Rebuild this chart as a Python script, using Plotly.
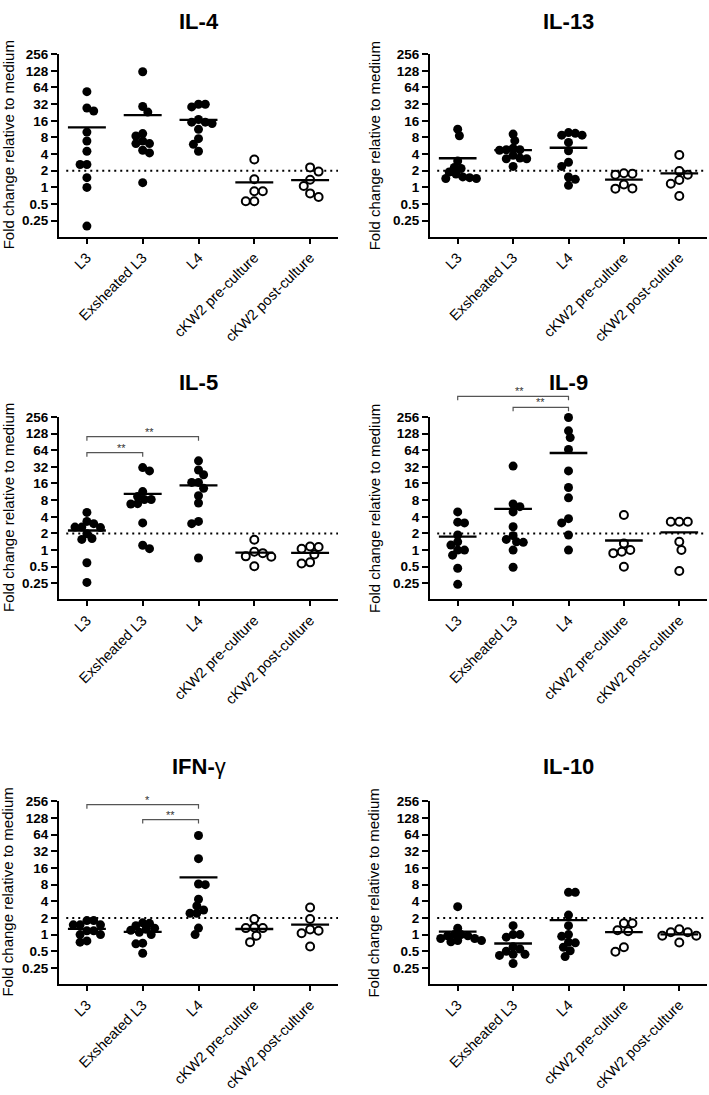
import math
import plotly.graph_objects as go

# ---------------- data ----------------
categories = ["L3", "Exsheated L3", "L4", "cKW2 pre-culture", "cKW2 post-culture"]
open_groups = [False, False, False, True, True]
tick_values = [0.25, 0.5, 1, 2, 4, 8, 16, 32, 64, 128, 256]
tick_labels = ["0.25", "0.5", "1", "2", "4", "8", "16", "32", "64", "128", "256"]
reference_level = 2
y_title = "Fold change relative to medium"

panel_titles = ["<b>IL-4</b>", "<b>IL-13</b>", "<b>IL-5</b>", "<b>IL-9</b>",
                "<b>IFN-</b>γ", "<b>IL-10</b>"]

il4 = [
    [53.8, 27.3, 24, 10, 6.9, 4.5, 2.6, 2.6, 1.5, 1.0, 0.2],
    [123, 29, 23, 9.4, 8.5, 6.9, 6.2, 6.2, 4.7, 4.2, 1.22],
    [31.8, 28.5, 31.8, 15.1, 14.3, 15.1, 16.9, 11.2, 7.6, 6.0, 4.5],
    [3.2, 1.4, 0.85, 0.85, 0.56, 0.56],
    [1.93, 2.3, 1.38, 1.06, 0.67, 0.78],
]
il13 = [
    [11.3, 8.6, 3.0, 2.3, 2.2, 1.9, 1.75, 1.5, 1.45, 1.45, 1.55],
    [9.2, 7.0, 5.1, 4.8, 4.7, 4.8, 3.8, 3.3, 3.3, 3.4, 2.4],
    [9.8, 8.8, 8.8, 9.5, 6.5, 4.6, 2.85, 2.4, 1.54, 1.4, 1.09],
    [1.76, 1.7, 1.8, 1.13, 0.95, 0.96],
    [3.86, 1.97, 1.36, 1.69, 1.16, 0.70],
]
il5 = [
    [4.8, 3.0, 3.3, 2.6, 2.6, 2.55, 1.97, 1.56, 1.62, 0.59, 0.26],
    [27, 31, 11.4, 8.2, 9.3, 8.2, 6.8, 6.9, 3.1, 1.06, 1.22],
    [41, 23, 28, 16.7, 16.7, 13.1, 9.6, 7.1, 3.3, 3.0, 0.72],
    [1.54, 0.93, 0.88, 0.77, 0.76, 0.51],
    [1.14, 1.06, 1.16, 0.83, 0.57, 0.60],
]
il9 = [
    [4.9, 3.1, 3.2, 1.87, 1.41, 1.0, 0.81, 1.0, 1.23, 0.47, 0.24],
    [33, 6.1, 6.8, 4.9, 2.64, 1.82, 1.56, 1.38, 1.41, 1.0, 0.49],
    [249, 143, 108, 66, 27, 13.5, 8.8, 3.7, 3.1, 1.87, 1.0],
    [4.3, 1.32, 0.93, 0.88, 1.0, 0.5],
    [3.25, 3.25, 3.25, 1.41, 1.0, 0.42],
]
ifng = [
    [1.79, 1.79, 1.5, 1.5, 1.5, 1.17, 1.17, 1.0, 1.0, 0.73, 0.77],
    [1.6, 1.63, 1.45, 1.3, 1.2, 1.0, 1.1, 0.7, 0.68, 0.46, 1.25],
    [62, 23.6, 8.2, 8.0, 3.3, 4.35, 2.43, 2.43, 2.79, 1.31, 1.0],
    [1.92, 1.31, 1.31, 1.35, 0.95, 0.73],
    [3.1, 1.92, 1.17, 1.24, 1.06, 0.61],
]
il10 = [
    [3.2, 1.3, 1.0, 1.0, 0.95, 0.95, 0.85, 0.85, 0.78, 0.78, 0.74],
    [1.45, 1.0, 1.0, 0.9, 0.6, 0.55, 0.5, 0.44, 0.44, 0.42, 0.3],
    [5.8, 5.8, 2.25, 1.45, 1.0, 0.93, 0.73, 0.71, 0.59, 0.51, 0.4],
    [1.6, 1.2, 1.15, 1.6, 0.59, 0.49],
    [1.1, 1.25, 1.1, 0.95, 0.95, 0.72],
]
panel_data = [il4, il13, il5, il9, ifng, il10]

# significance brackets: (from category, to category, level, label)
brackets = [
    [],
    [],
    [(0, 2, 112, "**"), (0, 1, 57.6, "**")],
    [(0, 2, 603, "**"), (1, 2, 380, "**")],
    [(0, 2, 223, "*"), (1, 2, 120, "**")],
    [],
]

# ---------------- layout geometry ----------------
W, H = 709, 1095
col_px = [(59, 338), (430, 707)]
row_px = [(47.5, 231), (412.5, 596), (799.5, 983)]
title_y_px = [15, 378, 764]
ytitle_x_px = [8, 374]
LOG2_LO, LOG2_HI = -2.95, 8.0
X_LO, X_HI = -0.5, 4.5
FONT = "Liberation Sans, Arial, sans-serif"


def swarm_offsets(values, px_per_oct, cat_px, diam):
    order = sorted(range(len(values)), key=lambda i: -values[i])
    placed = []
    offs = [0.0] * len(values)
    step = diam / 4.0
    side = 1
    for i in order:
        y = math.log2(values[i]) * px_per_oct
        cands = [0.0]
        for m in range(1, 60):
            cands += [side * m * step, -side * m * step]
        chosen = 0.0
        for c in cands:
            if all((c - px) ** 2 + (y - py) ** 2 >= diam ** 2 for px, py in placed):
                chosen = c
                break
        if chosen != 0:
            side = -side
        placed.append((chosen, y))
        offs[i] = chosen / cat_px
    return offs


fig = go.Figure()
layout = dict(
    width=W, height=H, margin=dict(l=0, r=0, t=0, b=0),
    paper_bgcolor="white", plot_bgcolor="white", showlegend=False,
    font=dict(family=FONT, color="black"),
)
annotations = []
shapes = []

for p in range(6):
    r, c = divmod(p, 2)
    n = p + 1
    xa = "x" if n == 1 else f"x{n}"
    ya = "y" if n == 1 else f"y{n}"
    x0, x1 = col_px[c]
    yt, yb = row_px[r]
    height_px = yb - yt
    px_per_oct = height_px / (LOG2_HI - LOG2_LO)
    cat_px = (x1 - x0) / (X_HI - X_LO)

    layout["xaxis" if n == 1 else f"xaxis{n}"] = dict(
        domain=[x0 / W, x1 / W], anchor=ya, range=[X_LO, X_HI],
        tickmode="array", tickvals=list(range(len(categories))), ticktext=categories,
        tickangle=-45, ticks="outside", ticklen=5, tickwidth=2, tickcolor="black",
        showline=True, linewidth=2, linecolor="black", showgrid=False, zeroline=False,
        tickfont=dict(size=14.5, family=FONT, color="black"),
    )
    layout["yaxis" if n == 1 else f"yaxis{n}"] = dict(
        domain=[1 - yb / H, 1 - yt / H], anchor=xa, type="log",
        range=[LOG2_LO * math.log10(2), LOG2_HI * math.log10(2)],
        tickmode="array", tickvals=tick_values, ticktext=tick_labels,
        ticks="outside", ticklen=6, tickwidth=2, tickcolor="black",
        showline=True, linewidth=2, linecolor="black", showgrid=False, zeroline=False,
        tickfont=dict(size=13.5, family=FONT, color="black", weight="bold"),
    )

    # reference dotted line
    fig.add_trace(go.Scatter(
        x=[-0.37, X_HI], y=[reference_level, reference_level], mode="lines",
        line=dict(color="black", width=2, dash="2px,4px"),
        xaxis=xa, yaxis=ya, hoverinfo="skip"))

    for g, vals in enumerate(panel_data[p]):
        if open_groups[g]:
            marker = dict(symbol="circle", size=8, color="white",
                          line=dict(color="black", width=2))
            offs = swarm_offsets(vals, px_per_oct, cat_px, 8.5)
        else:
            marker = dict(symbol="circle", size=9, color="black",
                          line=dict(width=0))
            offs = swarm_offsets(vals, px_per_oct, cat_px, 6.8)
        fig.add_trace(go.Scatter(
            x=[g + o for o in offs], y=vals, mode="markers", marker=marker,
            xaxis=xa, yaxis=ya, cliponaxis=False))
        mean = sum(vals) / len(vals)
        fig.add_trace(go.Scatter(
            x=[g - 0.34, g + 0.34], y=[mean, mean], mode="lines",
            line=dict(color="black", width=2.3), xaxis=xa, yaxis=ya))

    # brackets
    xdom = f"{xa} domain"
    ydom = f"{ya} domain"
    drop = 4.0 / height_px
    for (a, b, lvl, lab) in brackets[p]:
        fa = (a - X_LO) / (X_HI - X_LO)
        fb = (b - X_LO) / (X_HI - X_LO)
        fy = (math.log2(lvl) - LOG2_LO) / (LOG2_HI - LOG2_LO)
        shapes.append(dict(
            type="path", xref=xdom, yref=ydom,
            path=f"M {fa} {fy - drop} L {fa} {fy} L {fb} {fy} L {fb} {fy - drop}",
            line=dict(color="#555555", width=1.2)))
        annotations.append(dict(
            xref=xdom, yref=ydom, x=(fa + fb) / 2, y=fy, yanchor="bottom",
            text=lab, showarrow=False, yshift=-3,
            font=dict(size=11, family=FONT, color="#333333")))

    # panel title
    annotations.append(dict(
        xref="paper", yref="paper", x=((x0 + x1) / 2) / W, y=1 - title_y_px[r] / H,
        xanchor="center", yanchor="middle", text=panel_titles[p], showarrow=False,
        font=dict(size=22, family=FONT, color="black")))
    # y axis title
    annotations.append(dict(
        xref="paper", yref="paper", x=ytitle_x_px[c] / W, y=1 - ((yt + yb) / 2) / H,
        xanchor="center", yanchor="middle", text=y_title, textangle=-90,
        showarrow=False, font=dict(size=15, family=FONT, color="black")))

layout["annotations"] = annotations
layout["shapes"] = shapes
fig.update_layout(**layout)
fig.write_html(
    "out.html",
    config={"displayModeBar": False},
    post_script="document.body.style.margin='0px';document.body.style.overflow='hidden';",
)
